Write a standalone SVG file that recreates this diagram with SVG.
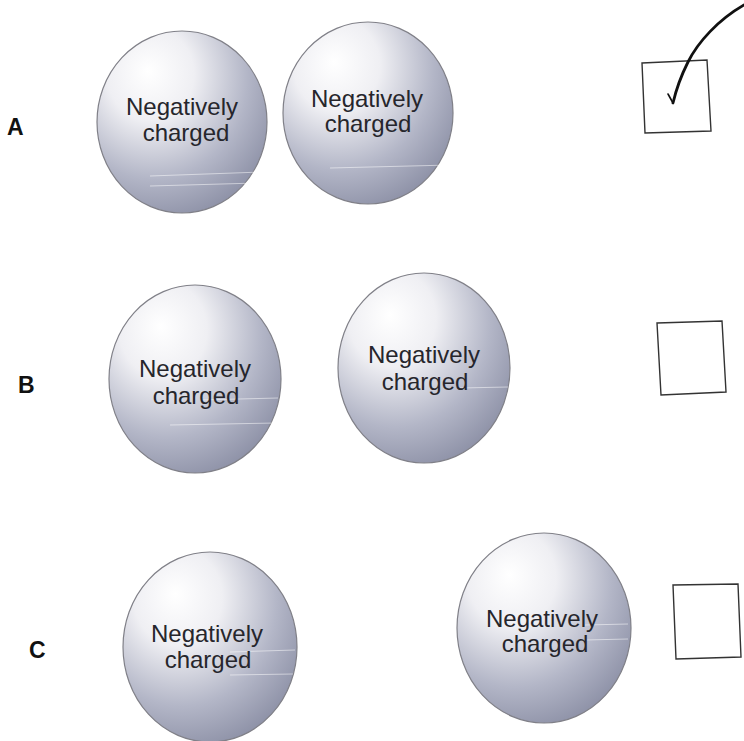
<svg xmlns="http://www.w3.org/2000/svg" width="744" height="741" viewBox="0 0 744 741">
<defs>
<radialGradient id="ball" cx="0.35" cy="0.28" r="0.85" fx="0.3" fy="0.22">
<stop offset="0" stop-color="#ffffff"/>
<stop offset="0.3" stop-color="#efeff3"/>
<stop offset="0.65" stop-color="#b3b6c7"/>
<stop offset="1" stop-color="#82869d"/>
</radialGradient>
<style>
.ball{fill:url(#ball);stroke:#808088;stroke-width:1.2}
.t{font-family:"Liberation Sans",Arial,sans-serif;font-size:24px;fill:#26262c;text-anchor:middle}
.lab{font-family:"Liberation Sans",Arial,sans-serif;font-size:23px;font-weight:bold;fill:#111}
.box{fill:none;stroke:#333;stroke-width:1.4}
.streak{stroke:#ffffff;stroke-opacity:0.5;stroke-width:1}
</style>
</defs>
<rect width="744" height="741" fill="#ffffff"/>

<g id="labels">
<text class="lab" x="7" y="135">A</text>
<text class="lab" x="18" y="393">B</text>
<text class="lab" x="29" y="658">C</text>
</g>

<g id="A1">
<ellipse class="ball" cx="182" cy="122" rx="85" ry="91"/>
<line class="streak" x1="150" y1="176" x2="262" y2="172"/>
<line class="streak" x1="150" y1="186" x2="258" y2="183"/>
<text class="t" x="182" y="115">Negatively</text>
<text class="t" x="186" y="141">charged</text>
</g>
<g id="A2">
<ellipse class="ball" cx="368" cy="113" rx="85" ry="91"/>
<line class="streak" x1="330" y1="168" x2="450" y2="165"/>
<text class="t" x="367" y="107">Negatively</text>
<text class="t" x="368" y="132">charged</text>
</g>
<g id="B1">
<ellipse class="ball" cx="195" cy="379" rx="86" ry="94"/>
<line class="streak" x1="200" y1="400" x2="278" y2="398"/>
<line class="streak" x1="170" y1="425" x2="276" y2="423"/>
<text class="t" x="195" y="377">Negatively</text>
<text class="t" x="196" y="404">charged</text>
</g>
<g id="B2">
<ellipse class="ball" cx="424" cy="368" rx="86" ry="95"/>
<line class="streak" x1="460" y1="388" x2="508" y2="387"/>
<text class="t" x="424" y="363">Negatively</text>
<text class="t" x="425" y="390">charged</text>
</g>
<g id="C1">
<ellipse class="ball" cx="210" cy="647" rx="87" ry="95"/>
<line class="streak" x1="230" y1="652" x2="295" y2="650"/>
<line class="streak" x1="230" y1="675" x2="293" y2="674"/>
<text class="t" x="207" y="642">Negatively</text>
<text class="t" x="208" y="668">charged</text>
</g>
<g id="C2">
<ellipse class="ball" cx="544" cy="628" rx="87" ry="95"/>
<line class="streak" x1="585" y1="625" x2="628" y2="624"/>
<line class="streak" x1="585" y1="640" x2="628" y2="639"/>
<text class="t" x="542" y="627">Negatively</text>
<text class="t" x="545" y="652">charged</text>
</g>

<g id="boxA"><path class="box" d="M642 63 L707 60 L711 131 L645 133 Z"/></g>
<g id="boxB"><path class="box" d="M657 323 L722 321 L726 392 L661 395 Z"/></g>
<g id="boxC"><path class="box" d="M673 585 L738 584 L741 657 L676 659 Z"/></g>

<g id="connectors">
<path d="M744 5 C718 20 698 42 688 62 C681 76 676 90 673 103" fill="none" stroke="#111" stroke-width="2.8" stroke-linecap="round"/>
<path d="M668 94 L673 103" fill="none" stroke="#111" stroke-width="1.6" stroke-linecap="round"/>
</g>
</svg>
